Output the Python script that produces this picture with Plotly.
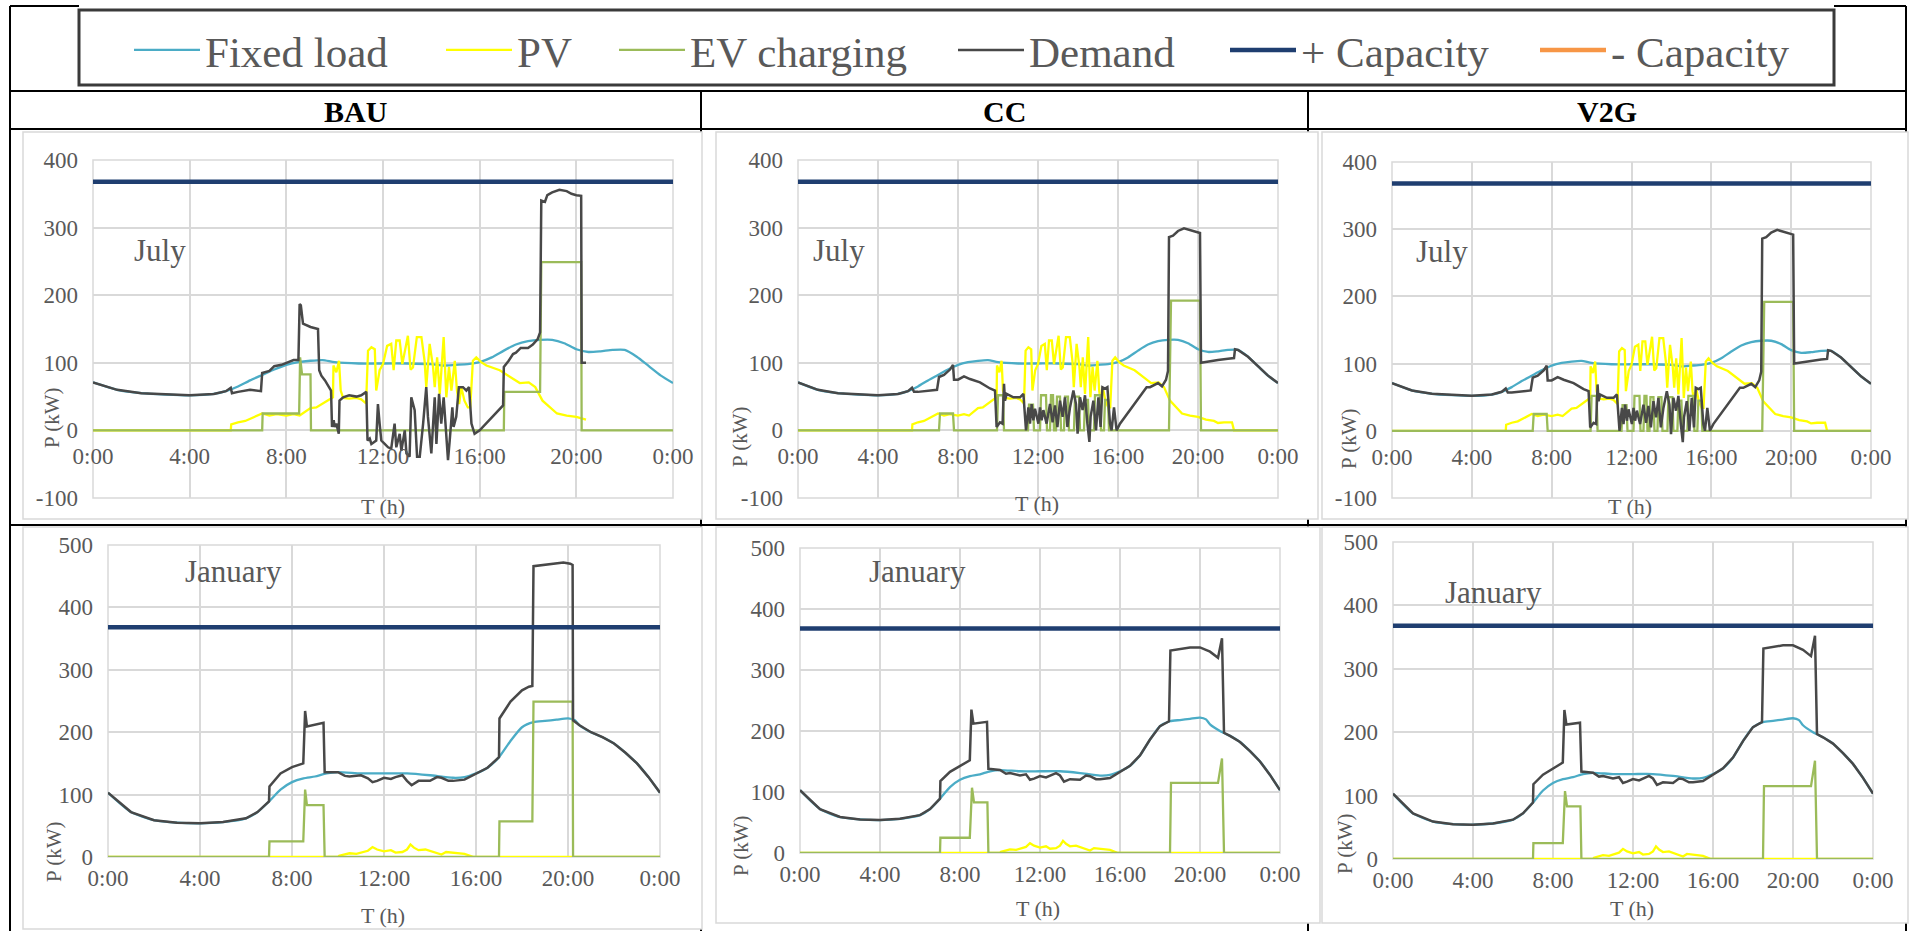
import plotly.graph_objects as go

# ---------------- data ----------------
HOUR_TICKS = [0, 4, 8, 12, 16, 20, 24]
HOUR_LABELS = ["0:00", "4:00", "8:00", "12:00", "16:00", "20:00", "0:00"]
P_TICKS_JUL = [-100, 0, 100, 200, 300, 400]
P_LABELS_JUL = ["-100", "0", "100", "200", "300", "400"]
P_TICKS_JAN = [0, 100, 200, 300, 400, 500]
P_LABELS_JAN = ["0", "100", "200", "300", "400", "500"]
SCENARIOS = ["BAU", "CC", "V2G"]
MONTHS = ["July", "January"]
SERIES = ["Fixed load", "PV", "EV charging", "Demand", "+ Capacity", "- Capacity"]
DAY_SPAN = [0, 24]
CAPACITY_KW = 368
NEG_CAPACITY_KW = -368
BAU_JULY_END = 20.4  # demand & PV records stop here in the BAU July chart

FIXED_JUL = [(0, 71), (1, 60), (2, 55), (3, 53), (4, 52), (5, 54), (5.5, 58), (6, 65), (6.5, 74), (7, 82),
             (7.5, 90), (8, 97), (8.5, 101), (9, 103), (9.5, 104), (10, 101), (11, 99), (12, 99), (13, 99),
             (14, 98), (14.5, 96), (15, 97), (15.5, 98), (16, 101), (16.5, 108), (17, 118), (17.5, 127),
             (18, 132), (18.5, 134), (19, 134), (19.5, 129), (20, 120), (20.5, 116), (21, 117), (21.5, 119),
             (22, 119), (22.5, 109), (23, 95), (23.5, 81), (24, 70)]

PV_JUL = [(0, 0), (5.7, 0), (5.72, 9), (6.0, 12), (6.3, 14), (6.6, 19), (7.0, 25), (7.3, 22), (7.6, 24),
          (8.0, 22), (8.3, 24), (8.55, 22), (8.8, 28), (9.0, 33), (9.24, 34), (9.5, 40), (9.75, 45),
          (9.93, 49), (9.95, 96), (10.07, 86), (10.18, 103), (10.25, 59), (10.35, 48), (10.6, 47),
          (10.9, 48), (11.1, 46), (11.3, 40), (11.38, 118), (11.52, 123), (11.66, 120), (11.72, 59),
          (11.86, 89), (12.0, 98), (12.17, 125), (12.34, 128), (12.44, 89), (12.55, 133), (12.69, 133),
          (12.8, 98), (12.9, 118), (13.03, 140), (13.14, 90), (13.24, 93), (13.4, 138), (13.59, 138),
          (13.72, 103), (13.79, 64), (13.93, 128), (14.07, 94), (14.14, 64), (14.24, 108), (14.35, 54),
          (14.42, 89), (14.51, 138), (14.62, 49), (14.73, 94), (14.83, 59), (14.97, 103), (15.06, 59),
          (15.15, 39), (15.24, 64), (15.37, 44), (15.51, 34), (15.61, 34), (15.72, 103), (15.86, 108),
          (16.06, 101), (16.28, 96), (16.83, 89), (17.24, 79), (17.66, 70), (18.03, 71), (18.3, 64),
          (18.6, 44), (18.9, 34), (19.2, 25), (19.6, 22), (20.0, 20), (20.4, 16), (20.8, 14), (21.0, 11),
          (21.3, 12), (21.7, 12), (21.8, 0), (24, 0)]

EV_BAU_JUL = [(0, 0), (7.0, 0), (7.02, 25), (8.53, 25), (8.57, 108), (8.65, 83), (9.0, 83), (9.02, 0),
              (17.0, 0), (17.02, 57), (18.5, 57), (18.55, 249), (20.2, 249), (20.22, 0), (24, 0)]

DEMAND_BAU_JUL = [(0, 71), (1, 60), (2, 55), (3, 53), (4, 52), (5, 54), (5.5, 58), (5.7, 63), (5.75, 55),
                  (6.0, 57), (6.5, 60), (6.95, 58), (7.0, 85), (7.3, 88), (7.5, 95), (7.8, 97), (8.0, 100),
                  (8.3, 104), (8.5, 104), (8.55, 187), (8.6, 185), (8.69, 158), (9.0, 153), (9.31, 150),
                  (9.36, 89), (9.45, 81), (9.6, 74), (9.85, 59), (9.89, 5), (9.96, 15), (10.0, 5), (10.07, 10),
                  (10.17, -5), (10.2, 44), (10.35, 49), (10.6, 52), (10.9, 50), (11.1, 52), (11.31, 57),
                  (11.36, -15), (11.45, -12), (11.52, -20), (11.72, -15), (11.79, 39), (11.86, 10),
                  (11.93, -15), (12.07, -20), (12.21, -25), (12.34, -27), (12.48, 10), (12.55, -25),
                  (12.69, -5), (12.76, -30), (12.9, 0), (12.97, -34), (13.1, -39), (13.17, 49), (13.31, 30),
                  (13.41, -39), (13.52, -39), (13.66, 10), (13.79, 64), (13.86, 20), (14.0, -34), (14.14, 49),
                  (14.21, -20), (14.32, 54), (14.41, 10), (14.51, 49), (14.62, 0), (14.69, -44), (14.76, -15),
                  (14.87, 34), (14.92, 5), (15.03, 20), (15.14, 64), (15.31, 64), (15.45, 59), (15.56, 64),
                  (15.66, 10), (15.79, -5), (16.0, 0), (16.97, 37), (17.0, 94), (17.2, 103), (17.38, 113),
                  (17.5, 115), (17.7, 122), (18.0, 122), (18.2, 127), (18.4, 135), (18.5, 145), (18.55, 340),
                  (18.7, 338), (18.8, 348), (19.0, 352), (19.3, 356), (19.6, 354), (19.8, 350), (20.0, 348),
                  (20.2, 347), (20.22, 100), (20.4, 100)]

EV_CC_JUL = [(0, 0), (7.05, 0), (7.1, 25), (7.75, 25), (7.8, 0), (9.95, 0), (10.0, 52), (10.25, 52),
             (10.3, 0), (11.5, 0), (11.55, 38), (11.75, 38), (11.8, 0), (12.1, 0), (12.15, 52), (12.4, 52),
             (12.45, 0), (12.6, 0), (12.65, 52), (12.75, 52), (12.8, 0), (12.9, 0), (12.95, 50), (13.1, 50),
             (13.15, 0), (13.3, 0), (13.35, 50), (13.5, 50), (13.55, 0), (13.8, 0), (13.85, 50), (14.05, 50),
             (14.1, 0), (14.3, 0), (14.35, 45), (14.5, 45), (14.55, 0), (14.8, 0), (14.85, 52), (15.1, 52),
             (15.15, 0), (15.3, 0), (15.35, 45), (15.5, 45), (15.55, 0), (18.55, 0), (18.65, 192),
             (20.1, 192), (20.15, 0), (24, 0)]

DEMAND_CC_JUL = [(0, 71), (1, 60), (2, 55), (3, 53), (4, 52), (5, 54), (5.5, 58), (5.7, 63), (5.8, 57),
                 (6.0, 57), (6.5, 58), (6.95, 60), (7.05, 79), (7.3, 82), (7.6, 90), (7.75, 97), (7.8, 75),
                 (8.0, 75), (8.3, 80), (8.6, 76), (9.1, 71), (9.6, 62), (9.85, 59), (9.93, 5), (10.1, 12),
                 (10.23, 10), (10.3, 69), (10.35, 44), (10.43, 54), (10.77, 49), (11.1, 49), (11.27, 54),
                 (11.4, 0), (11.52, 34), (11.6, 10), (11.68, 39), (11.77, 15), (11.85, 32), (12.02, 10),
                 (12.1, 34), (12.18, 15), (12.27, 30), (12.43, 10), (12.6, 39), (12.73, 12), (12.85, 37),
                 (12.97, 5), (13.1, 44), (13.23, 20), (13.35, 49), (13.47, 5), (13.6, 34), (13.77, 59),
                 (13.9, 39), (13.98, -5), (14.1, 49), (14.23, 30), (14.35, 52), (14.47, 10), (14.57, -17),
                 (14.63, 20), (14.77, 44), (14.9, 0), (15.02, 49), (15.13, 5), (15.22, 64), (15.35, 62),
                 (15.47, 64), (15.6, 10), (15.68, 0), (15.8, 34), (15.93, 0), (16.1, 10), (17.43, 64),
                 (17.6, 64), (17.8, 67), (18.0, 70), (18.2, 65), (18.4, 75), (18.5, 88), (18.55, 286),
                 (18.75, 288), (19.0, 295), (19.3, 299), (19.6, 296), (19.8, 294), (20.1, 292), (20.15, 100),
                 (20.5, 102), (21.0, 104), (21.5, 106), (21.8, 107), (21.85, 120), (22.0, 119), (22.5, 109),
                 (23, 95), (23.5, 81), (24, 70)]

# V2G July is read as the same trajectories as CC July
EV_V2G_JUL = EV_CC_JUL
DEMAND_V2G_JUL = DEMAND_CC_JUL

FIXED_JAN = [(0, 103), (1, 72), (2, 59), (3, 55), (4, 54), (5, 56), (6, 62), (6.5, 72), (7, 89), (7.5, 108),
             (8, 120), (8.5, 126), (9, 129), (9.5, 134), (10, 136), (11, 134), (12, 134), (13, 134), (14, 131),
             (15, 127), (15.5, 128), (16, 134), (16.5, 143), (17, 160), (17.5, 186), (18, 208), (18.5, 216),
             (19, 218), (19.5, 220), (20, 222), (20.3, 219), (20.5, 211), (21, 200), (21.5, 192), (22, 182),
             (22.5, 167), (23, 150), (23.5, 128), (24, 103)]

PV_JAN = [(0, 0), (10.0, 0), (10.05, 2), (10.3, 4), (10.5, 6), (10.8, 5), (11.0, 7), (11.3, 10), (11.5, 16),
          (11.7, 12), (12.0, 9), (12.3, 11), (12.5, 7), (12.8, 8), (13.0, 12), (13.15, 20), (13.3, 15),
          (13.5, 11), (13.8, 12), (14.0, 10), (14.3, 6), (14.5, 4), (14.7, 8), (15.0, 7), (15.5, 5),
          (15.9, 0), (24, 0)]

EV_BAU_JAN = [(0, 0), (7.0, 0), (7.02, 25), (8.49, 25), (8.57, 108), (8.65, 83), (9.37, 83), (9.42, 0),
              (17.0, 0), (17.02, 57), (18.45, 57), (18.5, 249), (20.2, 249), (20.22, 0), (24, 0)]

DEMAND_BAU_JAN = [(0, 103), (1, 72), (2, 59), (3, 55), (4, 54), (5, 56), (6, 62), (6.5, 72), (7, 89),
                  (7.02, 113), (7.5, 134), (8, 144), (8.49, 150), (8.57, 234), (8.65, 209), (9.37, 215),
                  (9.42, 136), (10, 136), (10.3, 130), (10.5, 129), (11, 131), (11.3, 126), (11.5, 120),
                  (11.7, 122), (12, 127), (12.3, 125), (12.5, 128), (12.8, 131), (13, 122), (13.2, 115),
                  (13.5, 122), (14, 122), (14.3, 128), (14.5, 127), (14.8, 122), (15, 122), (15.5, 124),
                  (16, 133), (16.5, 143), (17, 160), (17.02, 222), (17.5, 249), (18, 267), (18.3, 273),
                  (18.45, 274), (18.5, 466), (19, 468), (19.5, 470), (19.8, 472), (20.1, 470), (20.2, 468),
                  (20.22, 219), (20.5, 211), (21, 200), (21.5, 192), (22, 182), (22.5, 167), (23, 150),
                  (23.5, 128), (24, 103)]

EV_CC_JAN = [(0, 0), (7.0, 0), (7.02, 25), (8.49, 25), (8.6, 107), (8.7, 83), (9.37, 83), (9.42, 0),
             (18.5, 0), (18.55, 115), (20.9, 115), (21.0, 135), (21.1, 155), (21.2, 0), (24, 0)]

DEMAND_CC_JAN = [(0, 103), (1, 72), (2, 59), (3, 55), (4, 54), (5, 56), (6, 62), (6.5, 72), (7, 89),
                 (7.02, 118), (7.5, 133), (8, 143), (8.49, 152), (8.57, 235), (8.67, 212), (9.35, 215),
                 (9.42, 138), (10, 136), (10.3, 130), (10.5, 131), (11, 127), (11.3, 129), (11.5, 120),
                 (11.7, 122), (12, 126), (12.3, 124), (12.5, 127), (12.8, 131), (13, 127), (13.2, 117),
                 (13.5, 121), (14, 120), (14.3, 127), (14.5, 126), (14.8, 121), (15, 121), (15.5, 123),
                 (16, 133), (16.5, 143), (17, 160), (17.5, 186), (18, 208), (18.45, 216), (18.52, 332),
                 (19, 334), (19.5, 337), (20, 337), (20.5, 330), (20.9, 320), (21.0, 338), (21.1, 352),
                 (21.2, 197), (21.5, 192), (22, 182), (22.5, 167), (23, 150), (23.5, 128), (24, 103)]

EV_V2G_JAN = EV_CC_JAN
DEMAND_V2G_JAN = DEMAND_CC_JAN

# ---------------- styling / layout ----------------
W, H = 1913, 931
SERIF = "Liberation Serif"
TXT = "#595959"
GRID = "#d9d9d9"
COLORS = ["#4BACC6", "#FFFF00", "#9BBB59", "#484848", "#1F3E70", "#F79646"]
WIDTHS = [2.3, 2.3, 2.3, 2.5, 4.5, 4.5]


def fx(px):
    return px / W


def fy(py):
    return 1 - py / H


def cols(points):
    return [p[0] for p in points], [p[1] for p in points]


PV_BAU_JUL = [p for p in PV_JUL if p[0] <= BAU_JULY_END]

panels = [
    dict(box=(93, 673, 160, 498), yr=(-100, 400), fixed=FIXED_JUL, pv=PV_BAU_JUL, ev=EV_BAU_JUL, dem=DEMAND_BAU_JUL,
         label=(132, 250), ytitle=(52, 418), xtitle=(383, 507), month=MONTHS[0]),
    dict(box=(798, 1278, 160, 498), yr=(-100, 400), fixed=FIXED_JUL, pv=PV_JUL, ev=EV_CC_JUL, dem=DEMAND_CC_JUL,
         label=(811, 250), ytitle=(740, 437), xtitle=(1037, 503), month=MONTHS[0]),
    dict(box=(1392, 1871, 162, 498), yr=(-100, 400), fixed=FIXED_JUL, pv=PV_JUL, ev=EV_V2G_JUL, dem=DEMAND_V2G_JUL,
         label=(1414, 251), ytitle=(1349, 439), xtitle=(1630, 507), month=MONTHS[0]),
    dict(box=(108, 660, 545, 857), yr=(0, 500), fixed=FIXED_JAN, pv=PV_JAN, ev=EV_BAU_JAN, dem=DEMAND_BAU_JAN,
         label=(183, 571), ytitle=(54, 852), xtitle=(383, 915), month=MONTHS[1]),
    dict(box=(800, 1280, 548, 853), yr=(0, 500), fixed=FIXED_JAN, pv=PV_JAN, ev=EV_CC_JAN, dem=DEMAND_CC_JAN,
         label=(867, 571), ytitle=(741, 846), xtitle=(1038, 908), month=MONTHS[1]),
    dict(box=(1393, 1873, 542, 859), yr=(0, 500), fixed=FIXED_JAN, pv=PV_JAN, ev=EV_V2G_JAN, dem=DEMAND_V2G_JAN,
         label=(1443, 592), ytitle=(1345, 844), xtitle=(1632, 908), month=MONTHS[1]),
]

fig = go.Figure()
shapes = []
annotations = []

# table lines (drawn first, partly hidden by chart frames)
BLACK = "#000000"
table_lines = [
    (10, 6, 1906, 6), (10, 91, 1906, 91), (10, 129, 1906, 129), (10, 525, 1906, 525),
    (10, 6, 10, 931), (1906, 6, 1906, 931), (701, 91, 701, 931), (1308, 91, 1308, 931),
]
for x0, y0, x1, y1 in table_lines:
    shapes.append(dict(type="line", xref="paper", yref="paper", x0=fx(x0), y0=fy(y0), x1=fx(x1), y1=fy(y1),
                       line=dict(color=BLACK, width=2), layer="below"))

# legend box
shapes.append(dict(type="rect", xref="paper", yref="paper", x0=fx(79), x1=fx(1834), y0=fy(88), y1=fy(3),
                   fillcolor="white", line=dict(width=0), layer="below"))
shapes.append(dict(type="rect", xref="paper", yref="paper", x0=fx(79), x1=fx(1834), y0=fy(85), y1=fy(10),
                   fillcolor="rgba(0,0,0,0)", line=dict(color="#3a3a3a", width=3), layer="below"))

# chart frames
frames = [(23, 132, 702, 519), (716, 132, 1318, 519), (1322, 132, 1908, 519),
          (23, 527, 702, 929), (716, 527, 1320, 923), (1322, 527, 1908, 923)]
for x0, y0, x1, y1 in frames:
    shapes.append(dict(type="rect", xref="paper", yref="paper", x0=fx(x0), x1=fx(x1), y0=fy(y1), y1=fy(y0),
                       fillcolor="white", line=dict(color=GRID, width=1.5), layer="below"))

# header texts
for name, cx in zip(SCENARIOS, [355, 1004, 1607]):
    annotations.append(dict(text=f"<b>{name}</b>", x=fx(cx), y=fy(111), xref="paper", yref="paper",
                            showarrow=False, xanchor="center", yanchor="middle",
                            font=dict(family=SERIF, size=30, color="black")))

legend_keys = ["legend", "legend2", "legend3", "legend4", "legend5", "legend6"]
legend_text_x = [207, 519, 692, 1031, 1303, 1613]
LEG_ITEM_W = 66

for i, p in enumerate(panels, start=1):
    xs = "" if i == 1 else str(i)
    xname, yname = "x" + xs, "y" + xs
    series = [p["fixed"], p["pv"], p["ev"], p["dem"]]
    for k, pts in enumerate(series):
        tx, ty = cols(pts)
        line = dict(color=COLORS[k], width=WIDTHS[k])
        if k == 0:
            line.update(shape="spline", smoothing=0.6)
        fig.add_trace(go.Scatter(
            x=tx, y=ty, mode="lines", name=SERIES[k], xaxis=xname, yaxis=yname, line=line,
            showlegend=(i == 1), legend=legend_keys[k], hoverinfo="skip"))
    fig.add_trace(go.Scatter(x=DAY_SPAN, y=[CAPACITY_KW, CAPACITY_KW], mode="lines", name=SERIES[4],
                             xaxis=xname, yaxis=yname, line=dict(color=COLORS[4], width=WIDTHS[4]),
                             showlegend=(i == 1), legend=legend_keys[4], hoverinfo="skip"))
    fig.add_trace(go.Scatter(x=DAY_SPAN, y=[NEG_CAPACITY_KW, NEG_CAPACITY_KW], mode="lines", name=SERIES[5],
                             xaxis=xname, yaxis=yname, line=dict(color=COLORS[5], width=WIDTHS[5]),
                             showlegend=(i == 1), legend=legend_keys[5], hoverinfo="skip"))

    x0, x1, yt, yb = p["box"]
    ymin, ymax = p["yr"]
    july = ymin < 0
    zero_px = yt + (ymax - 0) / (ymax - ymin) * (yb - yt)
    xaxis = dict(domain=[fx(x0), fx(x1)], range=DAY_SPAN, tickvals=HOUR_TICKS, ticktext=HOUR_LABELS,
                 showgrid=True, gridcolor=GRID, gridwidth=1.5, zeroline=False, showline=False, ticks="",
                 tickfont=dict(family=SERIF, size=23, color=TXT), ticklabelstandoff=10 if july else 5,
                 fixedrange=True, automargin=False)
    if july:
        xaxis.update(anchor="free", position=fy(zero_px))
    else:
        xaxis.update(anchor=yname)
    yaxis = dict(domain=[fy(yb), fy(yt)], range=[ymin, ymax],
                 tickvals=P_TICKS_JUL if july else P_TICKS_JAN, ticktext=P_LABELS_JUL if july else P_LABELS_JAN,
                 anchor=xname, showgrid=True, gridcolor=GRID, gridwidth=1.5, zeroline=False, showline=False,
                 ticks="", tickfont=dict(family=SERIF, size=23, color=TXT), ticklabelstandoff=14,
                 fixedrange=True, automargin=False)
    fig.update_layout({("xaxis" + xs): xaxis, ("yaxis" + xs): yaxis})

    shapes.append(dict(type="rect", xref=f"{xname} domain", yref=f"{yname} domain", x0=0, x1=1, y0=0, y1=1,
                       line=dict(color=GRID, width=1.5), layer="below"))

    lx, ly = p["label"]
    annotations.append(dict(text=p["month"], x=fx(lx), y=fy(ly), xref="paper", yref="paper", showarrow=False,
                            xanchor="left", yanchor="middle", font=dict(family=SERIF, size=31, color=TXT)))
    tx_, ty_ = p["ytitle"]
    annotations.append(dict(text="P (kW)", x=fx(tx_), y=fy(ty_), xref="paper", yref="paper", showarrow=False,
                            textangle=-90, xanchor="center", yanchor="middle",
                            font=dict(family=SERIF, size=21, color=TXT)))
    hx, hy = p["xtitle"]
    annotations.append(dict(text="T (h)", x=fx(hx), y=fy(hy), xref="paper", yref="paper", showarrow=False,
                            xanchor="center", yanchor="middle", font=dict(family=SERIF, size=22, color=TXT)))

layout_legends = {}
for key, tx0 in zip(legend_keys, legend_text_x):
    layout_legends[key] = dict(x=fx(tx0 - LEG_ITEM_W - 12), y=fy(50), xanchor="left", yanchor="middle",
                               orientation="h", bgcolor="rgba(0,0,0,0)", borderwidth=0, itemwidth=LEG_ITEM_W,
                               font=dict(family=SERIF, size=43, color=TXT))

fig.update_layout(
    width=W, height=H, margin=dict(l=0, r=0, t=0, b=0, pad=0, autoexpand=False),
    paper_bgcolor="white", plot_bgcolor="white",
    font=dict(family=SERIF, color=TXT),
    shapes=shapes, annotations=annotations, showlegend=True, **layout_legends,
)

fig.write_html("out.html", config={"displayModeBar": False})
